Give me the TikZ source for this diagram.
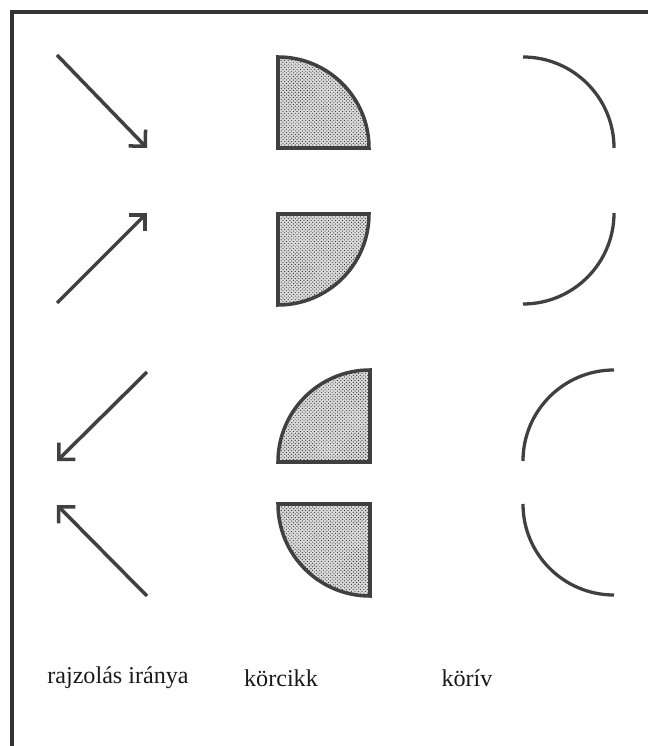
\documentclass[tikz,border=0pt]{standalone}
\usepackage{fontspec}
\setmainfont{Liberation Serif}
\usepackage{tikz}
\usetikzlibrary{arrows.meta,patterns}
\tikzset{
  keret/.style  ={line width=2.6pt,draw=black!80},
  irany/.style  ={line width=3pt,draw=black!75,-{Straight Barb[angle=90:0.5cm]}},
  cikk/.style   ={line width=3pt,draw=black!75,line join=miter,preaction={fill=black!14},pattern=crosshatch dots,pattern color=black!85},
  iv/.style     ={line width=2.8pt,draw=black!75},
  felirat/.style={font=\fontsize{20.6}{24}\selectfont,text=black!90,inner sep=0pt},
}
\begin{document}
\begin{tikzpicture}[x=0.03cm,y=0.03cm]
  \useasboundingbox (0,0) rectangle (648,746);
  \draw[keret](12,0)--(12,734)--(660,734);
  % rajzolas iranya
  \coordinate(s1) at (57,691);  \coordinate(e1) at (147,598);
  \coordinate(s2) at (57,443);  \coordinate(e2) at (147,533);
  \coordinate(s3) at (147,374); \coordinate(e3) at (57,285);
  \coordinate(s4) at (147,150); \coordinate(e4) at (57,241);
  \foreach \i in {1,...,4}{\draw[irany](s\i)--(e\i);}
  % korcikk
  \draw[cikk](278,598)--(278,689) arc[start angle=90,end angle=0,radius=91]--cycle;
  \draw[cikk](278,532)--(369,532) arc[start angle=0,end angle=-90,radius=91]--cycle;
  \draw[cikk](370,284)--(370,376) arc[start angle=90,end angle=180,radius=92]--cycle;
  \draw[cikk](370,242)--(278,242) arc[start angle=180,end angle=270,radius=92]--cycle;
  % koriv
  \draw[iv](523,689) arc[start angle=90,end angle=0,radius=91];
  \draw[iv](614,533) arc[start angle=0,end angle=-90,radius=91];
  \draw[iv](614,376) arc[start angle=90,end angle=180,radius=91];
  \draw[iv](523,242) arc[start angle=180,end angle=270,radius=91];
  \node[felirat](l1) at (118,68){rajzolás iránya};
  \node[felirat](l2) at (281,68){körcikk};
  \node[felirat](l3) at (467,68){körív};
\end{tikzpicture}
\end{document}
